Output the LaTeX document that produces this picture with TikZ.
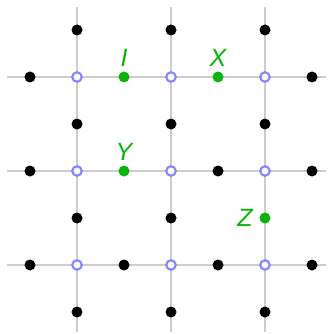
\documentclass[tikz,border=0pt]{standalone}
\usepackage{fontspec}
\setsansfont{Liberation Sans}
\definecolor{gridc}{RGB}{205,205,205}
\definecolor{ringc}{RGB}{135,135,255}
\definecolor{greenc}{RGB}{10,180,10}
\begin{document}
\begin{tikzpicture}[x=1pt,y=-1pt,
  gridline/.style={draw=gridc,line width=1.4pt},
  blackdot/.style={circle,fill=black,inner sep=0pt,minimum size=11pt},
  greendot/.style={circle,fill=greenc,inner sep=0pt,minimum size=11pt},
  ring/.style={circle,draw=ringc,fill=white,line width=2.2pt,inner sep=0pt,minimum size=9.5pt},
  lab/.style={text=greenc,font=\sffamily\itshape\fontsize{25}{25}\selectfont,inner sep=0pt}]
\useasboundingbox (0,0) rectangle (333,334);
% grid lines
\foreach \v in {77,171,265} {
  \draw[gridline] (\v,7) -- (\v,332);
  \draw[gridline] (7,\v) -- (326,\v);
}
% rings
\foreach \i/\x in {1/77,2/171,3/265} {
  \foreach \j/\y in {1/77,2/171,3/265} {
    \node[ring] (r\i\j) at (\x,\y) {};
  }
}
% black dots
\foreach \n/\x/\y in {a/77/30,b/171/30,c/265/30,d/30/77,e/312/77,
  f/77/124,g/171/124,h/265/124,i/30/171,j/218/171,k/312/171,
  l/77/218,m/171/218,n/30/265,o/124/265,p/218/265,q/312/265,
  r/77/312,s/171/312,t/265/312} {
  \node[blackdot] (b\n) at (\x,\y) {};
}
% green dots
\node[greendot] (gI) at (124,77) {};
\node[greendot] (gX) at (218,77) {};
\node[greendot] (gY) at (124,171) {};
\node[greendot] (gZ) at (265,218) {};
\node[lab] (lI) at (124,58) {I};
\node[lab] (lX) at (218,58) {X};
\node[lab] (lY) at (124,152) {Y};
\node[lab] (lZ) at (245,218) {Z};
\end{tikzpicture}
\end{document}
